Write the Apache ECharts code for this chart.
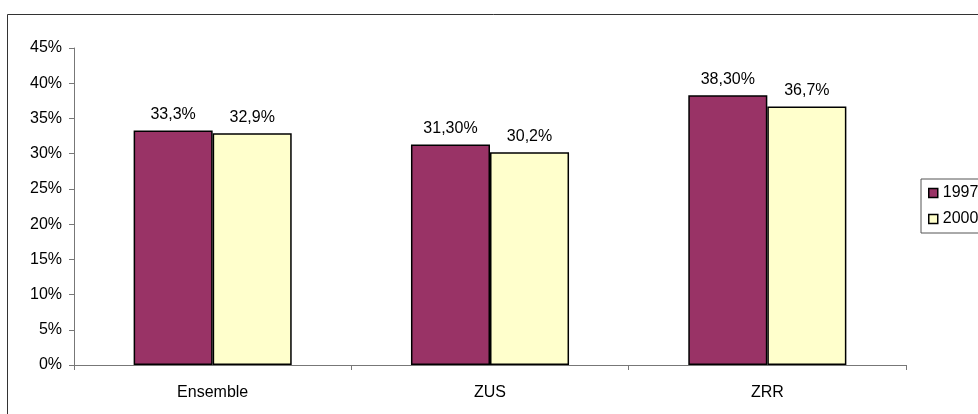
<!DOCTYPE html>
<html>
<head>
<meta charset="utf-8">
<script src="https://cdn.jsdelivr.net/npm/echarts@6/dist/echarts.min.js"></script>
<style>
  html, body { margin: 0; padding: 0; background: #fff; }
  #chart { width: 978px; height: 414px; }
</style>
</head>
<body>
<div id="chart"></div>
<script>
const categories = ["Ensemble", "ZUS", "ZRR"];
const values1997 = [33.3, 31.3, 38.3];
const values2000 = [32.9, 30.2, 36.7];
const labels1997 = ["33,3%", "31,30%", "38,30%"];
const labels2000 = ["32,9%", "30,2%", "36,7%"];

const chart = echarts.init(document.getElementById("chart"));
const font = "'Liberation Sans', Arial, sans-serif";

function barSeries(name, data, labels, color) {
  return {
    name: name,
    type: "bar",
    data: data,
    barGap: "0%",
    barCategoryGap: "43%",
    itemStyle: { color: color, borderColor: "#000", borderWidth: 1.5 },
    label: {
      show: true,
      position: "top",
      distance: 8,
      fontFamily: font,
      fontSize: 16,
      color: "#000",
      formatter: (p) => labels[p.dataIndex]
    }
  };
}

chart.setOption({
  animation: false,
  textStyle: { fontFamily: font },
  graphic: [{
    type: "rect",
    shape: { x: 7.5, y: 14.5, width: 990, height: 420 },
    style: { fill: "none", stroke: "#333", lineWidth: 1 }
  }],
  grid: { left: 74, top: 48, right: 72, bottom: 49 },
  legend: {
    orient: "vertical",
    left: 921,
    top: 179,
    padding: [6, 10, 6, 7],
    itemWidth: 9,
    itemHeight: 9,
    itemGap: 10,
    borderColor: "#555",
    borderWidth: 1,
    icon: "rect",
    textStyle: { fontFamily: font, fontSize: 16, color: "#000" },
    data: ["1997", "2000"],
    itemStyle: { borderColor: "#000", borderWidth: 1.5 }
  },
  xAxis: {
    type: "category",
    data: categories,
    axisLine: { lineStyle: { color: "#777" } },
    axisTick: { show: true, length: 5, lineStyle: { color: "#777" } },
    axisLabel: { fontFamily: font, fontSize: 16, color: "#000", margin: 20 }
  },
  yAxis: {
    type: "value",
    min: 0,
    max: 45,
    interval: 5,
    splitLine: { show: false },
    axisLine: { show: true, lineStyle: { color: "#777" } },
    axisTick: { show: true, length: 5, lineStyle: { color: "#777" } },
    axisLabel: { fontFamily: font, fontSize: 16, color: "#000", margin: 12, formatter: "{value}%" }
  },
  series: [
    barSeries("1997", values1997, labels1997, "#993366"),
    barSeries("2000", values2000, labels2000, "#FFFFCC")
  ]
});
</script>
</body>
</html>
